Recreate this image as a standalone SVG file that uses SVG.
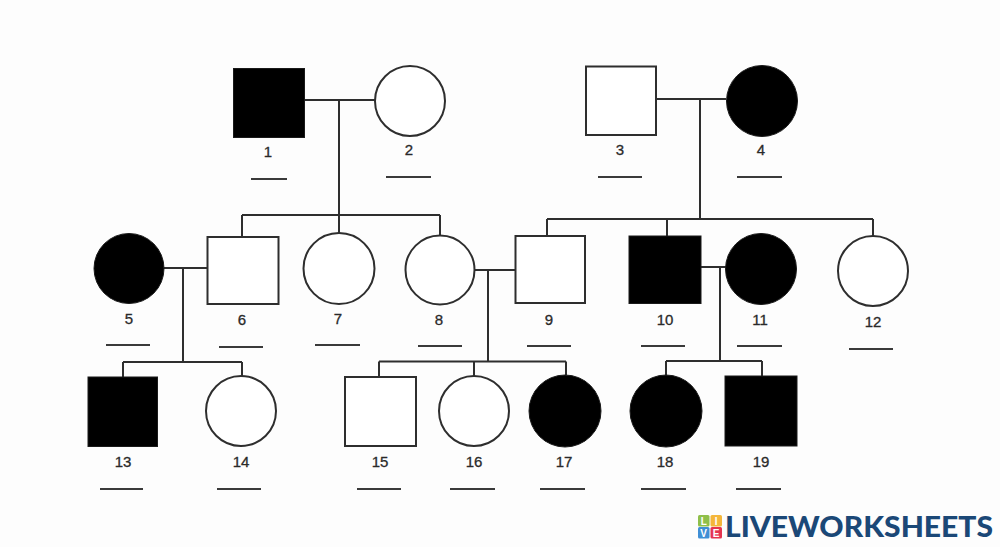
<svg xmlns="http://www.w3.org/2000/svg" width="1000" height="547" viewBox="0 0 1000 547">
<style>
.l{stroke:#2e2e2e;stroke-width:2;fill:none}
.b{stroke:#3a3a3a;stroke-width:2;fill:none}
.o{fill:#fff;stroke:#2e2e2e;stroke-width:2}
.f{fill:#000;stroke:#1a1a1a;stroke-width:1}
.t{font-family:"Liberation Sans",Arial,sans-serif;font-size:15px;fill:#2a2a2a;stroke:#2a2a2a;stroke-width:.3;text-anchor:middle}
.g{font-family:"Liberation Sans",Arial,sans-serif;font-size:10px;font-weight:700;fill:#fff;text-anchor:middle}
</style>
<rect width="1000" height="547" fill="#fdfdfd"/>
<g id="connectors" class="l">
<path d="M305 100H375M339 100V236M242 215H440M242 215V237M440 215V236"/>
<path d="M656 99H726M700 99V219M547 219H873M547 219V236M667 219V236M873 219V237"/>
<path d="M164 268H207M183 268V362M123 362H242M123 362V377M242 362V376"/>
<path d="M475 270H515M488 270V361.500M379 361.500H566M379 361.500V377M474 361.500V376M566 361.500V375"/>
<path d="M701 267H726M720 267V361M666 361H762M666 361V375M762 361V376"/>
</g>
<g id="n1"><rect class="f" x="233.500" y="68.500" width="71" height="69"/><text class="t" x="268" y="157">1</text><path class="b" d="M251 179H287"/></g>
<g id="n2"><circle class="o" cx="410" cy="101" r="35"/><text class="t" x="409" y="155">2</text><path class="b" d="M386 177H431"/></g>
<g id="n3"><rect class="o" x="586" y="66.500" width="70" height="68.500"/><text class="t" x="620" y="155">3</text><path class="b" d="M598 177H642"/></g>
<g id="n4"><circle class="f" cx="762" cy="101" r="35.500"/><text class="t" x="761" y="155">4</text><path class="b" d="M737 177H782"/></g>
<g id="n5"><circle class="f" cx="129" cy="268.500" r="35"/><text class="t" x="129" y="324">5</text><path class="b" d="M106 345H150"/></g>
<g id="n6"><rect class="o" x="207.500" y="237" width="71" height="67"/><text class="t" x="242" y="325">6</text><path class="b" d="M219 347H263"/></g>
<g id="n7"><circle class="o" cx="339" cy="268.500" r="35.500"/><text class="t" x="338" y="324">7</text><path class="b" d="M315 345H360"/></g>
<g id="n8"><circle class="o" cx="440" cy="270" r="34.500"/><text class="t" x="439" y="325">8</text><path class="b" d="M418 346H462"/></g>
<g id="n9"><rect class="o" x="515.500" y="236" width="69.500" height="67"/><text class="t" x="549" y="325">9</text><path class="b" d="M527 346H571"/></g>
<g id="n10"><rect class="f" x="629" y="236" width="72" height="67.500"/><text class="t" x="665" y="325">10</text><path class="b" d="M641 346H685"/></g>
<g id="n11"><circle class="f" cx="761" cy="269" r="35.500"/><text class="t" x="760" y="325">11</text><path class="b" d="M737 346H782"/></g>
<g id="n12"><circle class="o" cx="873" cy="271" r="35"/><text class="t" x="873" y="327">12</text><path class="b" d="M849 349H893"/></g>
<g id="n13"><rect class="f" x="88" y="377" width="69.500" height="69.500"/><text class="t" x="123" y="467">13</text><path class="b" d="M100 489H143"/></g>
<g id="n14"><circle class="o" cx="241" cy="411" r="35"/><text class="t" x="241" y="467">14</text><path class="b" d="M217 489H261"/></g>
<g id="n15"><rect class="o" x="345" y="377" width="71" height="69"/><text class="t" x="380" y="467">15</text><path class="b" d="M357 489H401"/></g>
<g id="n16"><circle class="o" cx="474" cy="411" r="35"/><text class="t" x="474" y="467">16</text><path class="b" d="M450 489H495"/></g>
<g id="n17"><circle class="f" cx="565" cy="411" r="36"/><text class="t" x="564" y="467">17</text><path class="b" d="M540 489H585"/></g>
<g id="n18"><circle class="f" cx="666" cy="411" r="36"/><text class="t" x="665" y="467">18</text><path class="b" d="M641 489H686"/></g>
<g id="n19"><rect class="f" x="725" y="376" width="72" height="70"/><text class="t" x="761" y="467">19</text><path class="b" d="M736 489H781"/></g>
<g id="logo">
<rect x="698" y="515" width="11.500" height="11.500" rx="1.500" fill="#8fbf4a"/><text class="g" x="703.700" y="524.500">L</text>
<rect x="710.500" y="515" width="11.500" height="11.500" rx="1.500" fill="#f4b63a"/><text class="g" x="716.200" y="524.500">I</text>
<rect x="698" y="527" width="11.500" height="11.500" rx="1.500" fill="#3f8fd6"/><text class="g" x="703.700" y="536.500">V</text>
<rect x="710.500" y="527" width="11.500" height="11.500" rx="1.500" fill="#e5344f"/><text class="g" x="716.200" y="536.500">E</text>
<text x="725" y="537" font-family="Lato,'Liberation Sans',sans-serif" font-size="29" font-weight="900" fill="#1b4877" textLength="268" lengthAdjust="spacingAndGlyphs">LIVEWORKSHEETS</text>
</g>
</svg>
